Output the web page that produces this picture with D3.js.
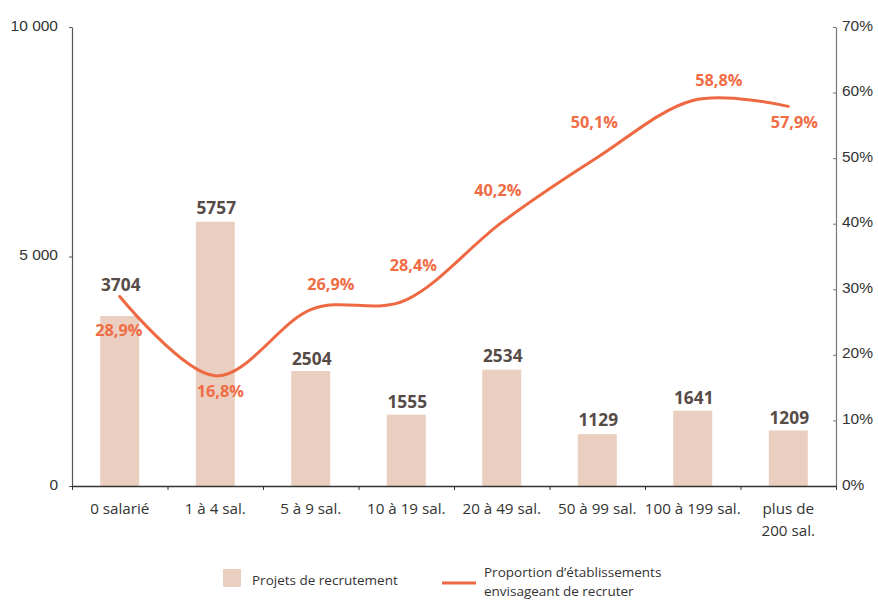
<!DOCTYPE html>
<html><head><meta charset="utf-8">
<script src="https://cdnjs.cloudflare.com/ajax/libs/d3/7.8.5/d3.min.js"></script>
<style>
body{margin:0;background:#fff;}
svg{display:block;font-family:"Open Sans",sans-serif;}
</style></head>
<body><svg id="c" width="878" height="606"></svg>
<script>
// ---- data ----
const categories = ["0 salarié","1 à 4 sal.","5 à 9 sal.","10 à 19 sal.","20 à 49 sal.","50 à 99 sal.","100 à 199 sal.","plus de\n200 sal."];
const projets = [3704,5757,2504,1555,2534,1129,1641,1209];
const proportion = [28.9,16.8,26.9,28.4,40.2,50.1,58.8,57.9];
const leftTicks = [0,5000,10000];
const leftTickLabels = ["0","5 000","10 000"];
const rightTicks = [0,10,20,30,40,50,60,70];
const legendLabels = ["Projets de recrutement","Proportion d’établissements\nenvisageant de recruter"];
// label layout (pixel offsets: dx, dy of label baseline from mark top/point)
const barLabelDy = [-25,-8,-6,-7,-8,-8,-7,-7];
const pctLabelOffset = [[-1,40],[5,21],[20,-20],[7,-29],[-4,-26],[-3,-29],[26,-14],[6,22]];

// ---- styles ----
const barColor = "#EACEBF", lineColor = "#EE6942", pctColor = "#F06C45", valColor = "#574B48", axisText = "#333";

const svg = d3.select("#c");
const L = 72, R = 836, T = 27, B = 486;
const x = d3.scaleBand().domain(categories).range([L,R]).padding(0);
const yL = d3.scaleLinear().domain([0,10000]).range([B,T]);
const yR = d3.scaleLinear().domain([0,70]).range([B,T]);
const bw = 39;
const cx = c => x(c) + x.bandwidth()/2;

// bars
svg.append("g").selectAll("rect").data(projets).join("rect")
  .attr("x",(d,i)=>cx(categories[i])-bw/2)
  .attr("y",d=>yL(d))
  .attr("width",bw)
  .attr("height",d=>B-yL(d))
  .attr("fill",barColor);

// left axis
const gL = svg.append("g").attr("transform",`translate(${L},0)`)
  .call(d3.axisLeft(yL).tickValues(leftTicks).tickSizeInner(3).tickSizeOuter(0).tickPadding(11)
    .tickFormat((d,i)=>leftTickLabels[i]));
gL.select(".domain").attr("stroke","#555").attr("stroke-width",1.2);
gL.selectAll(".tick line").attr("stroke","#555");
gL.selectAll("text").attr("font-size",15.5).attr("fill",axisText).attr("dy","0.2em");

// right axis
const gR = svg.append("g").attr("transform",`translate(${R},0)`)
  .call(d3.axisRight(yR).tickValues(rightTicks).tickSizeInner(-3).tickSizeOuter(0).tickPadding(6)
    .tickFormat(d=>d+"%"));
gR.select(".domain").attr("stroke","#777").attr("stroke-width",1.2);
gR.selectAll(".tick line").attr("stroke","#777");
gR.selectAll("text").attr("font-size",15.5).attr("fill",axisText).attr("dy","0.2em");

// bottom axis: ticks at band edges
const edge = d3.scaleLinear().domain([0,categories.length]).range([L,R]);
const gB = svg.append("g").attr("transform",`translate(0,${B})`)
  .call(d3.axisBottom(edge).ticks(categories.length).tickSizeInner(4).tickSizeOuter(0).tickFormat(""));
gB.select(".domain").attr("stroke","#333").attr("stroke-width",1.3);
gB.selectAll(".tick line").attr("stroke","#333");

// x labels
const xl = svg.append("g").selectAll("text").data(categories).join("text")
  .attr("x",d=>cx(d)).attr("y",B+28)
  .attr("text-anchor","middle").attr("font-size",15.2).attr("fill",axisText);
xl.each(function(d){
  const lines = d.split("\n");
  d3.select(this).selectAll("tspan").data(lines).join("tspan")
    .attr("x",cx(d)).attr("dy",(l,j)=>j===0?0:21.5).text(l=>l);
});

// line
const line = d3.line().x((d,i)=>cx(categories[i])).y(d=>yR(d)).curve(d3.curveCardinal.tension(0));
svg.append("path").datum(proportion).attr("d",line)
  .attr("fill","none").attr("stroke",lineColor).attr("stroke-width",3).attr("stroke-linecap","round");

// bar labels
svg.append("g").selectAll("text").data(projets).join("text")
  .attr("x",(d,i)=>cx(categories[i])+1)
  .attr("y",(d,i)=>yL(d)+barLabelDy[i])
  .attr("text-anchor","middle").attr("font-size",17.3).attr("font-weight","bold").attr("fill",valColor)
  .text(d=>d);

// pct labels
svg.append("g").selectAll("text").data(proportion).join("text")
  .attr("x",(d,i)=>cx(categories[i])+pctLabelOffset[i][0])
  .attr("y",(d,i)=>yR(d)+pctLabelOffset[i][1])
  .attr("text-anchor","middle").attr("font-size",16.3).attr("font-weight","bold").attr("fill",pctColor)
  .text(d=>d3.format(".1f")(d).replace(".",",")+"%");

// legend
svg.append("rect").attr("x",223).attr("y",569).attr("width",18).attr("height",18).attr("fill",barColor);
svg.append("text").attr("x",252).attr("y",585).attr("font-size",13.5).attr("fill",axisText).text(legendLabels[0]);
svg.append("line").attr("x1",442).attr("x2",476).attr("y1",583).attr("y2",583).attr("stroke",lineColor).attr("stroke-width",3);
const lt = svg.append("text").attr("x",484).attr("y",577).attr("font-size",13.5).attr("fill",axisText);
lt.selectAll("tspan").data(legendLabels[1].split("\n")).join("tspan")
  .attr("x",484).attr("dy",(l,j)=>j===0?0:19).text(l=>l);
</script></body></html>
